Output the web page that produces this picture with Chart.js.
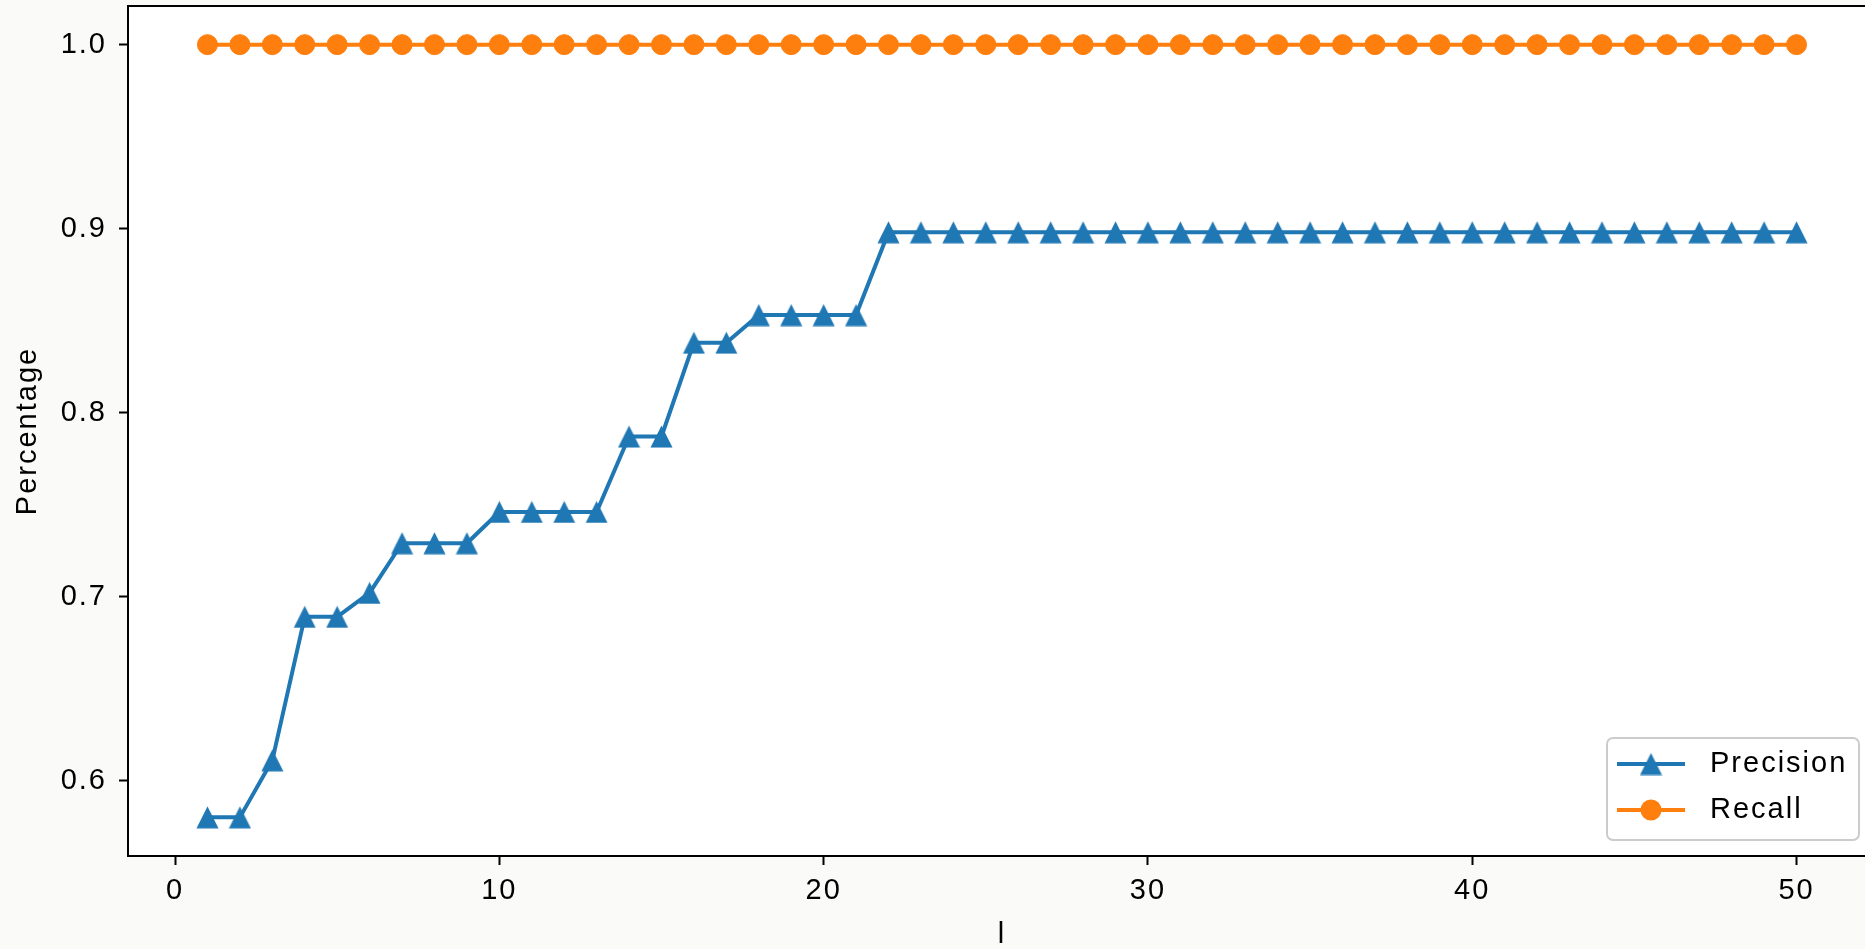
<!DOCTYPE html>
<html>
<head>
<meta charset="utf-8">
<script src="https://cdn.jsdelivr.net/npm/chart.js@4/dist/chart.umd.min.js"></script>
<style>
  html, body { margin: 0; padding: 0; overflow: hidden; background: #fafaf9; }
  canvas { display: block; }
</style>
</head>
<body>
<canvas id="grafico" width="1880" height="949"></canvas>
<script>
// Dados
const valoresL = [1, 2, 3, 4, 5, 6, 7, 8, 9, 10, 11, 12, 13, 14, 15, 16, 17, 18, 19, 20,
    21, 22, 23, 24, 25, 26, 27, 28, 29, 30, 31, 32, 33, 34, 35, 36, 37, 38, 39, 40,
    41, 42, 43, 44, 45, 46, 47, 48, 49, 50];
const precision = [0.580, 0.580, 0.611, 0.689, 0.689, 0.702, 0.729, 0.729, 0.729, 0.746,
    0.746, 0.746, 0.746, 0.787, 0.787, 0.838, 0.838, 0.853, 0.853, 0.853,
    0.853, 0.898, 0.898, 0.898, 0.898, 0.898, 0.898, 0.898, 0.898, 0.898,
    0.898, 0.898, 0.898, 0.898, 0.898, 0.898, 0.898, 0.898, 0.898, 0.898,
    0.898, 0.898, 0.898, 0.898, 0.898, 0.898, 0.898, 0.898, 0.898, 0.898];
const recall = [1, 1, 1, 1, 1, 1, 1, 1, 1, 1, 1, 1, 1, 1, 1, 1, 1, 1, 1, 1,
    1, 1, 1, 1, 1, 1, 1, 1, 1, 1, 1, 1, 1, 1, 1, 1, 1, 1, 1, 1,
    1, 1, 1, 1, 1, 1, 1, 1, 1, 1];
const ticksX = [0, 10, 20, 30, 40, 50];
const ticksY = [0.6, 0.7, 0.8, 0.9, 1.0];

const azul = '#1f77b4';
const laranja = '#ff7f0e';
const fonte = { family: '"Liberation Sans", Arial, sans-serif', size: 29 };

// Triângulo no estilo do matplotlib (largura = altura, centrado no ponto)
function criarTriangulo(cor, tam) {
    const c = document.createElement('canvas');
    c.width = tam;
    c.height = tam;
    const g = c.getContext('2d');
    g.fillStyle = cor;
    g.beginPath();
    g.moveTo(tam / 2, 0.5);
    g.lineTo(tam - 0.5, tam - 0.5);
    g.lineTo(0.5, tam - 0.5);
    g.closePath();
    g.fill();
    return c;
}
const triangulo = criarTriangulo(azul, 23);

// Fundo, moldura e legenda
const moldura = {
    id: 'moldura',
    beforeDraw(chart) {
        const { ctx, chartArea: a } = chart;
        ctx.letterSpacing = '2px';
        ctx.save();
        ctx.fillStyle = '#ffffff';
        ctx.fillRect(a.left, a.top, a.right - a.left, a.bottom - a.top);
        ctx.restore();
    },
    afterDatasetsDraw(chart) {
        const { ctx, chartArea: a } = chart;
        ctx.save();
        ctx.strokeStyle = '#000';
        ctx.lineWidth = 2;
        ctx.strokeRect(a.left, a.top, a.right - a.left, a.bottom - a.top);
        ctx.restore();
    },
    afterDraw(chart) {
        const ctx = chart.ctx;
        ctx.save();
        ctx.beginPath();
        ctx.roundRect(1607, 738, 252, 102, 6);
        ctx.fillStyle = 'rgba(255,255,255,0.8)';
        ctx.fill();
        ctx.strokeStyle = '#cccccc';
        ctx.lineWidth = 2;
        ctx.stroke();

        const itens = [
            { nome: 'Precision', cor: azul, y: 764 },
            { nome: 'Recall', cor: laranja, y: 810 }
        ];
        itens.forEach(item => {
            ctx.beginPath();
            ctx.moveTo(1617, item.y);
            ctx.lineTo(1685, item.y);
            ctx.strokeStyle = item.cor;
            ctx.lineWidth = 4;
            ctx.stroke();
            if (item.nome === 'Precision') {
                ctx.drawImage(triangulo, 1651 - 11.5, item.y - 11.5);
            } else {
                ctx.beginPath();
                ctx.arc(1651, item.y, 10.5, 0, Math.PI * 2);
                ctx.fillStyle = item.cor;
                ctx.fill();
            }
            ctx.fillStyle = '#000';
            ctx.font = `${fonte.size}px ${fonte.family}`;
            ctx.textBaseline = 'middle';
            ctx.textAlign = 'left';
            ctx.fillText(item.nome, 1710, item.y);
        });
        ctx.restore();
    }
};

const ctx = document.getElementById('grafico').getContext('2d');
const chart = new Chart(ctx, {
    type: 'line',
    data: {
        datasets: [{
            label: 'Precision',
            data: valoresL.map((l, i) => ({ x: l, y: precision[i] })),
            borderColor: azul,
            backgroundColor: azul,
            borderWidth: 4,
            borderJoinStyle: 'round',
            pointStyle: triangulo,
            pointRadius: 11,
            pointHoverRadius: 11
        }, {
            label: 'Recall',
            data: valoresL.map((l, i) => ({ x: l, y: recall[i] })),
            borderColor: laranja,
            backgroundColor: laranja,
            borderWidth: 4,
            borderJoinStyle: 'round',
            pointStyle: 'circle',
            pointRadius: 10,
            pointBorderWidth: 1,
            pointHoverRadius: 10
        }]
    },
    options: {
        responsive: false,
        animation: false,
        events: [],
        layout: { autoPadding: false, padding: { left: 0, top: 6, right: 4, bottom: 0 } },
        plugins: {
            legend: { display: false },
            tooltip: { enabled: false }
        },
        scales: {
            x: {
                type: 'linear',
                min: -1.45,
                max: 52.45,
                afterBuildTicks: scale => { scale.ticks = ticksX.map(v => ({ value: v })); },
                afterFit: scale => {
                    scale.height = 93;
                    scale.paddingLeft = 0;
                    scale.paddingRight = 0;
                },
                grid: { drawOnChartArea: false, tickLength: 9, tickWidth: 2, tickColor: '#000' },
                border: { display: true, color: '#000', width: 2 },
                ticks: { color: '#000', font: fonte, padding: 9, maxRotation: 0 },
                title: {
                    display: true,
                    text: 'l',
                    color: '#000',
                    font: { ...fonte, lineHeight: 1 },
                    padding: { top: 0, bottom: 0 }
                }
            },
            y: {
                type: 'linear',
                min: 0.559,
                max: 1.021,
                afterBuildTicks: scale => { scale.ticks = ticksY.map(v => ({ value: v })); },
                afterFit: scale => {
                    scale.width = 128;
                    scale.paddingTop = 0;
                    scale.paddingBottom = 0;
                },
                grid: { drawOnChartArea: false, tickLength: 9, tickWidth: 2, tickColor: '#000' },
                border: { display: true, color: '#000', width: 2 },
                ticks: {
                    color: '#000',
                    font: fonte,
                    padding: 12,
                    callback: v => v.toFixed(1)
                },
                title: {
                    display: true,
                    text: 'Percentage',
                    color: '#000',
                    font: fonte,
                    padding: { top: 11, bottom: 0 }
                }
            }
        }
    },
    plugins: [moldura]
});
</script>
</body>
</html>
